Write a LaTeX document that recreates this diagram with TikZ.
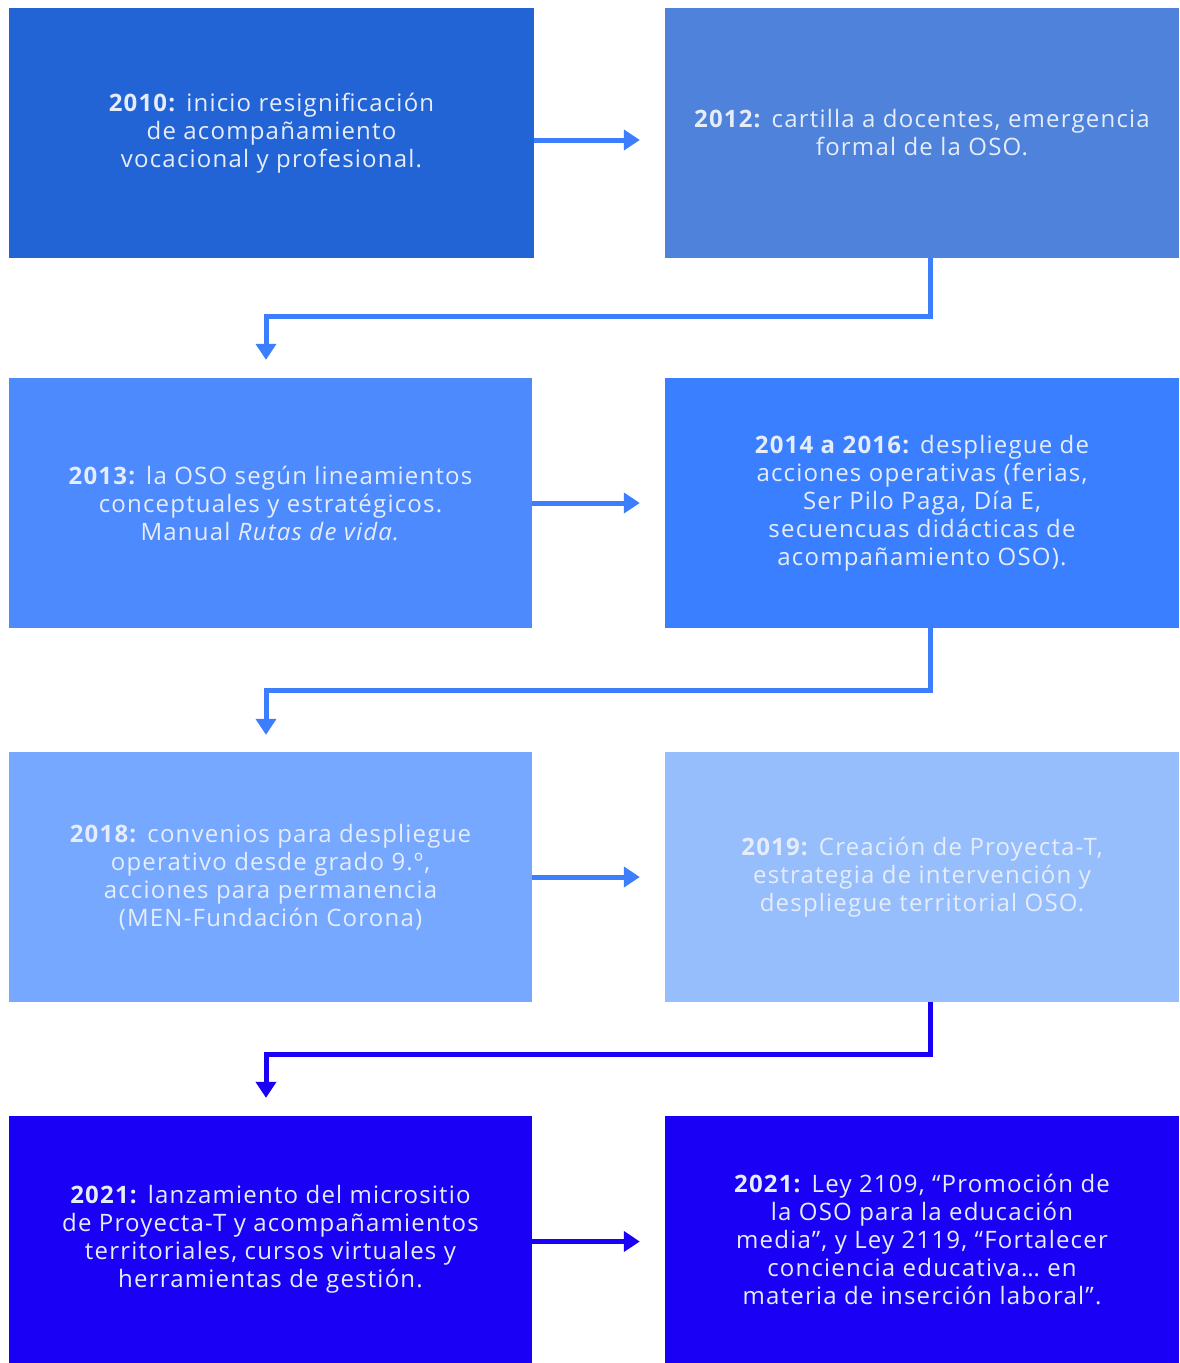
\documentclass[tikz,border=0pt]{standalone}
\usepackage{fontspec}
\setmainfont{Open Sans}[LetterSpace=5]
\usetikzlibrary{arrows.meta}
\definecolor{cA}{HTML}{2264D5}
\definecolor{cB}{HTML}{4E82DB}
\definecolor{cC}{HTML}{4D8AFE}
\definecolor{cD}{HTML}{3A7FFF}
\definecolor{cE}{HTML}{76A8FF}
\definecolor{cF}{HTML}{96BEFD}
\definecolor{cG}{HTML}{1A00F4}
\definecolor{arrA}{HTML}{3D7EFF}
\definecolor{txt}{HTML}{E6EDFA}
\tikzset{
  box/.style={rectangle, draw=none, inner sep=0pt, minimum height=250pt,
    text=txt, align=center, font=\fontsize{24}{28}\selectfont},
  arr/.style={line width=5pt, -{Triangle[width=20pt,length=16pt]}},
}
\begin{document}
\begin{tikzpicture}[x=1pt,y=-1pt]
\useasboundingbox (0,0) rectangle (1179,1363);
% row 1
\node[box, fill=cA, minimum width=525pt] (b1) at (271.5,133)
  {\textbf{2010:} inicio resignificación\\de acompañamiento\\vocacional y profesional.};
\node[box, fill=cB, minimum width=514pt] (b2) at (922,133)
  {\textbf{2012:} cartilla a docentes, emergencia\\formal de la OSO.};
% row 2
\node[box, fill=cC, minimum width=523pt] (b3) at (270.5,503)
  {\textbf{2013:} la OSO según lineamientos\\conceptuales y estratégicos.\\Manual \textit{Rutas de vida.}};
\node[box, fill=cD, minimum width=514pt] (b4) at (922,503)
  {\textbf{2014 a 2016:} despliegue de\\acciones operativas (ferias,\\Ser Pilo Paga, Día E,\\secuencuas didácticas de\\acompañamiento OSO).};
% row 3
\node[box, fill=cE, minimum width=523pt] (b5) at (270.5,877)
  {\textbf{2018:} convenios para despliegue\\operativo desde grado 9.º,\\acciones para permanencia\\(MEN-Fundación Corona)};
\node[box, fill=cF, minimum width=514pt] (b6) at (922,877)
  {\textbf{2019:} Creación de Proyecta-T,\\estrategia de intervención y\\despliegue territorial OSO.};
% row 4
\node[box, fill=cG, minimum width=523pt, minimum height=247pt] (b7) at (270.5,1239.5)
  {\textbf{2021:} lanzamiento del micrositio\\de Proyecta-T y acompañamientos\\territoriales, cursos virtuales y\\herramientas de gestión.};
\node[box, fill=cG, minimum width=514pt, minimum height=247pt] (b8) at (922,1239.5)
  {\textbf{2021:} Ley 2109, “Promoción de\\la OSO para la educación\\media”, y Ley 2119, “Fortalecer\\conciencia educativa… en\\materia de inserción laboral”.};
% arrows
\draw[arr, arrA] ([yshift=-7pt]b1.east) -- ([xshift=-25pt,yshift=-7pt]b2.west);
\draw[arr, arrA] (b3.east) -- ([xshift=-25pt]b4.west);
\draw[arr, arrA] (b5.east) -- ([xshift=-25pt]b6.west);
\draw[arr, cG] ([yshift=-2pt]b7.east) -- ([xshift=-25pt,yshift=-2pt]b8.west);
\coordinate (k1) at (930,316);
\coordinate (k2) at (930,690);
\coordinate (k3) at (930,1054);
\draw[arr, arrA] ([xshift=8pt]b2.south) |- (k1) -| ([xshift=-4.5pt,yshift=18pt]b3.north);
\draw[arr, arrA] ([xshift=8pt]b4.south) |- (k2) -| ([xshift=-4.5pt,yshift=17pt]b5.north);
\draw[arr, cG] ([xshift=8pt]b6.south) |- (k3) -| ([xshift=-4.5pt,yshift=18pt]b7.north);
\end{tikzpicture}
\end{document}
